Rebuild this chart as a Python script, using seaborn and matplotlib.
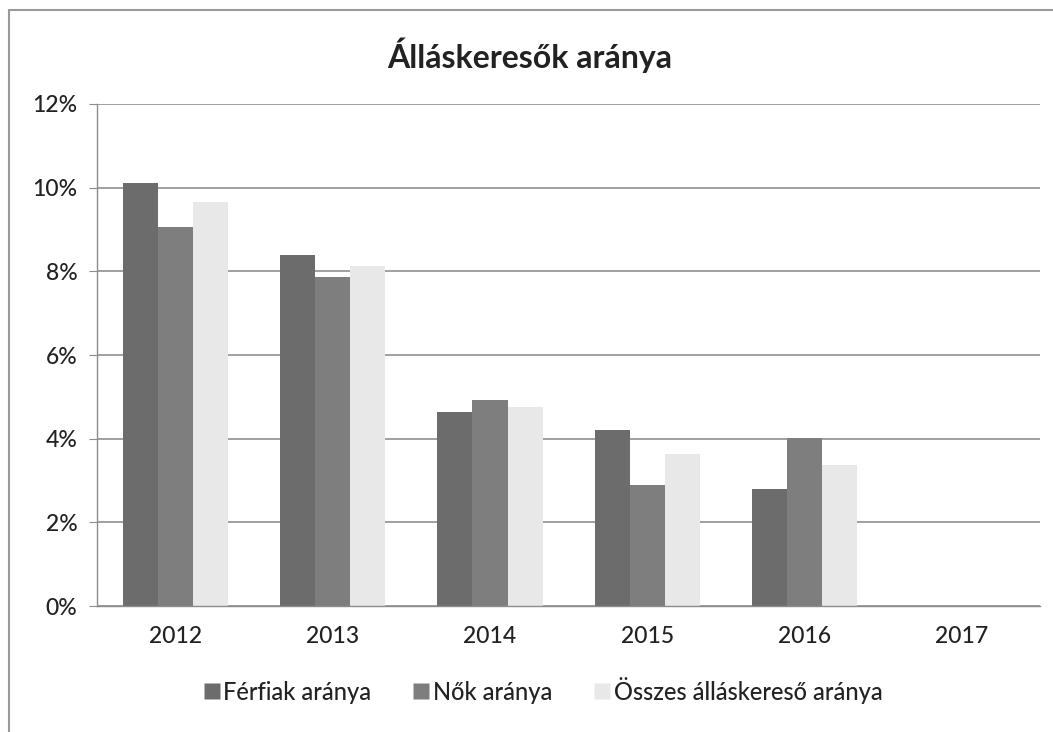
import matplotlib
matplotlib.use("Agg")
import matplotlib.pyplot as plt
import seaborn as sns
import pandas as pd
import numpy as np
from matplotlib.lines import Line2D
from matplotlib.ticker import FuncFormatter, FixedLocator

years = ["2012", "2013", "2014", "2015", "2016", "2017"]
series_names = ["Férfiak aránya", "Nők aránya", "Összes álláskereső aránya"]
ferfiak = [10.12, 8.39, 4.64, 4.22, 2.79, np.nan]
nok = [9.07, 7.87, 4.92, 2.89, 4.01, np.nan]
osszes = [9.65, 8.13, 4.76, 3.63, 3.37, np.nan]
colors = ["#6c6c6c", "#7e7e7e", "#e8e8e8"]

rows = []
for name, vals in zip(series_names, [ferfiak, nok, osszes]):
    for y, v in zip(years, vals):
        if not np.isnan(v):
            rows.append({"Év": y, "Sorozat": name, "Érték": v})
df = pd.DataFrame(rows)

sns.set_style("white")
plt.rcParams["font.family"] = ["Lato", "DejaVu Sans"]

fig = plt.figure(figsize=(10.53, 7.32), dpi=100)
ax = fig.add_axes([0.092, 0.172, 0.896, 0.686])

sns.barplot(data=df, x="Év", y="Érték", hue="Sorozat", order=years,
            hue_order=series_names, palette=colors, width=0.67,
            saturation=1, ax=ax, legend=False, errorbar=None,
            edgecolor="none")

ax.set_ylim(0, 12)
ax.set_xlim(-0.5, 5.5)
ax.set_yticks([0, 2, 4, 6, 8, 10, 12])
ax.yaxis.set_major_formatter(FuncFormatter(lambda v, p: f"{int(v)}%"))
ax.grid(axis="y", color="#999999", linewidth=1.3)
ax.set_axisbelow(True)
for s in ["top", "right"]:
    ax.spines[s].set_visible(False)
ax.spines["left"].set_color("#8c8c8c")
ax.spines["bottom"].set_color("#8c8c8c")
ax.spines["left"].set_linewidth(1.0)
ax.spines["bottom"].set_linewidth(1.0)

ax.set_xlabel("")
ax.set_ylabel("")
ax.tick_params(axis="x", which="major", length=0, labelsize=16.5, pad=14)
ax.xaxis.set_minor_locator(FixedLocator([-0.5, 0.5, 1.5, 2.5, 3.5, 4.5, 5.5]))
ax.tick_params(axis="x", which="minor", length=6, color="#8c8c8c", direction="out")
ax.tick_params(axis="y", which="major", length=6, color="#8c8c8c", labelsize=16.5, pad=8, left=True)
for t in ax.get_yticklabels() + ax.get_xticklabels():
    t.set_color("#222222")
    t.set_fontweight("medium")

fig.text(0.503, 0.925, "Álláskeresők aránya", ha="center", va="center",
         fontsize=23, fontweight="bold", color="#222222")

handles = [Line2D([], [], marker="s", linestyle="none", markersize=11,
                  markerfacecolor=c, markeredgecolor="none") for c in colors]
leg = fig.legend(handles, series_names, loc="center", bbox_to_anchor=(0.515, 0.057),
                 ncol=3, frameon=False, fontsize=17, handletextpad=0.1,
                 columnspacing=1.7, handlelength=0.8)
for t in leg.get_texts():
    t.set_color("#222222")
    t.set_fontweight("medium")

fig.add_artist(Line2D([9 / 1053, 1], [1 - 10 / 732, 1 - 10 / 732],
                      transform=fig.transFigure, color="#9a9a9a", linewidth=1.5))
fig.add_artist(Line2D([9 / 1053, 9 / 1053], [0, 1 - 10 / 732],
                      transform=fig.transFigure, color="#9a9a9a", linewidth=1.5))

fig.savefig("out.png", dpi=100)
